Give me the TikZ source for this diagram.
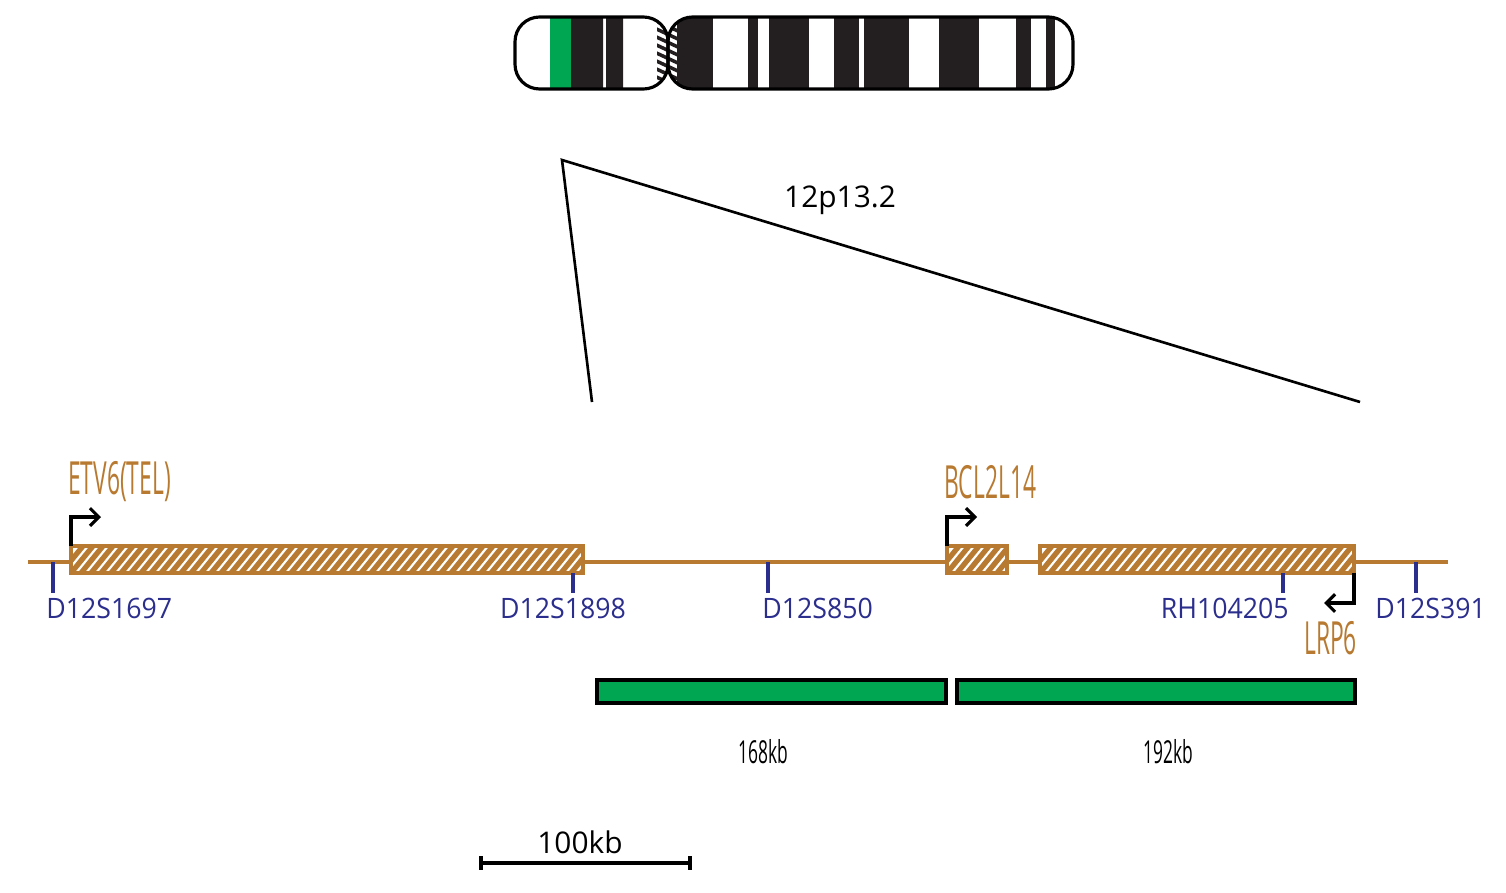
\documentclass[tikz,border=0pt]{standalone}
\usepackage{fontspec}
\setmainfont{Open Sans}
\usetikzlibrary{arrows.meta}
\definecolor{gene}{HTML}{B87A30}
\definecolor{mark}{HTML}{2B2E8C}
\definecolor{band}{HTML}{231F20}
\definecolor{probe}{HTML}{00A651}
\tikzset{
  genebox/.style={draw=gene,line width=2.2pt},
  mk/.style={draw=mark,line width=2pt},
  mklabel/.style={text=mark,font=\fontsize{16}{18}\selectfont,inner sep=0pt,xscale=0.95},
  glabel/.style={text=gene,font=\fontsize{26}{28}\selectfont,inner sep=0pt,xscale=0.5},
  kblabel/.style={font=\fontsize{18}{20}\selectfont,inner sep=0pt,xscale=0.55},
  tss/.style={line width=1.8pt,-{Straight Barb[length=5pt,width=10pt]}},
}
\newcommand\hatchbox[2]{%
  \fill[white] (#1,546) rectangle (#2,573);
  \begin{scope}
  \clip (#1,546) rectangle (#2,573);
  \foreach \i in {0,10,...,530} \draw[gene,line width=3pt] (#1+\i-10,573) -- (#1+\i+12,546);
  \end{scope}
  \draw[genebox] (#1,546) rectangle (#2,573);}
\begin{document}
\begin{tikzpicture}[x=0.02cm,y=-0.02cm]
\useasboundingbox (0,0) rectangle (1506,892);
% chromosome
\begin{scope}
\clip[rounded corners=14pt] (515,17) rectangle (668,89);
\fill[band] (571,17) rectangle (603,89) (606,17) rectangle (623,89);
\fill[probe] (550,17) rectangle (571,89);
\clip (657,17) rectangle (668,89);
\foreach \y in {10,18,...,100} \draw[band,line width=2pt] (650,\y) -- (680,\y+14);
\end{scope}
\begin{scope}
\clip[rounded corners=14pt] (668,17) rectangle (1073,89);
\fill[band] (668,17) rectangle (713,89);
\foreach \a/\b in {748/758,769/809,834/859,864/909,939/979,1016/1031,1046/1055}
  \fill[band] (\a,17) rectangle (\b,89);
\fill[white] (668,17) rectangle (677,89);
\clip (668,17) rectangle (677,89);
\foreach \y in {10,18,...,100} \draw[band,line width=2pt] (650,\y) -- (680,\y+14);
\end{scope}
\draw[line width=1.8pt,rounded corners=14pt] (515,17) rectangle (668,89);
\draw[line width=1.8pt,rounded corners=14pt] (668,17) rectangle (1073,89);
% zoom triangle
\coordinate (apex) at (562,160);
\coordinate (zl) at (592,402);
\coordinate (zr) at (1360,402);
\draw[line width=1.5pt] (zl) -- (apex) -- (zr);
\node[font=\fontsize{17}{19}\selectfont] (band) at (840,200) {12p13.2};
% gene line
\coordinate (ls) at (28,562);
\coordinate (le) at (1448,562);
\draw[gene,line width=2.2pt] (ls) -- (le);
\hatchbox{71}{583}
\hatchbox{947}{1007}
\hatchbox{1040}{1354}
% markers
\foreach \x/\y/\lx/\an/\t/\n in {53/562/46/west/D12S1697/m1,573/573/563/center/D12S1898/m2,
    768/562/762/west/D12S850/m3,1283/573/1289/east/RH104205/m4,1416/562/1375/west/D12S391/m5}{
  \draw[mk] (\x,\y) -- (\x,593);
  \node[mklabel,anchor=\an] (\n) at (\lx,608) {\t};
}
% promoters
\coordinate (p1) at (71,546);
\coordinate (p2) at (947,546);
\coordinate (p3) at (1354,573);
\draw[tss] (p1) |- ++(30,-29);
\draw[tss] (p2) |- ++(30,-29);
\draw[tss] (p3) |- ++(-30,30);
\node[glabel,anchor=west] (etv) at (68,482) {ETV6(TEL)};
\node[glabel,anchor=west] (bcl) at (944,482) {BCL2L14};
\node[glabel,anchor=west] (lrp) at (1304,638) {LRP6};
% probes
\draw[fill=probe,line width=2pt] (597,680) rectangle (946,703);
\draw[fill=probe,line width=2pt] (957,680) rectangle (1355,703);
\node[kblabel] (k1) at (763,752) {168kb};
\node[kblabel] (k2) at (1168,752) {192kb};
% scale bar
\coordinate (s1) at (481,863);
\coordinate (s2) at (690,863);
\draw[line width=2pt] (s1) -- (s2);
\draw[line width=2pt] (481,856) -- (481,870) (690,856) -- (690,870);
\node[font=\fontsize{17}{19}\selectfont] (sc) at (580,842) {100kb};
\end{tikzpicture}
\end{document}
